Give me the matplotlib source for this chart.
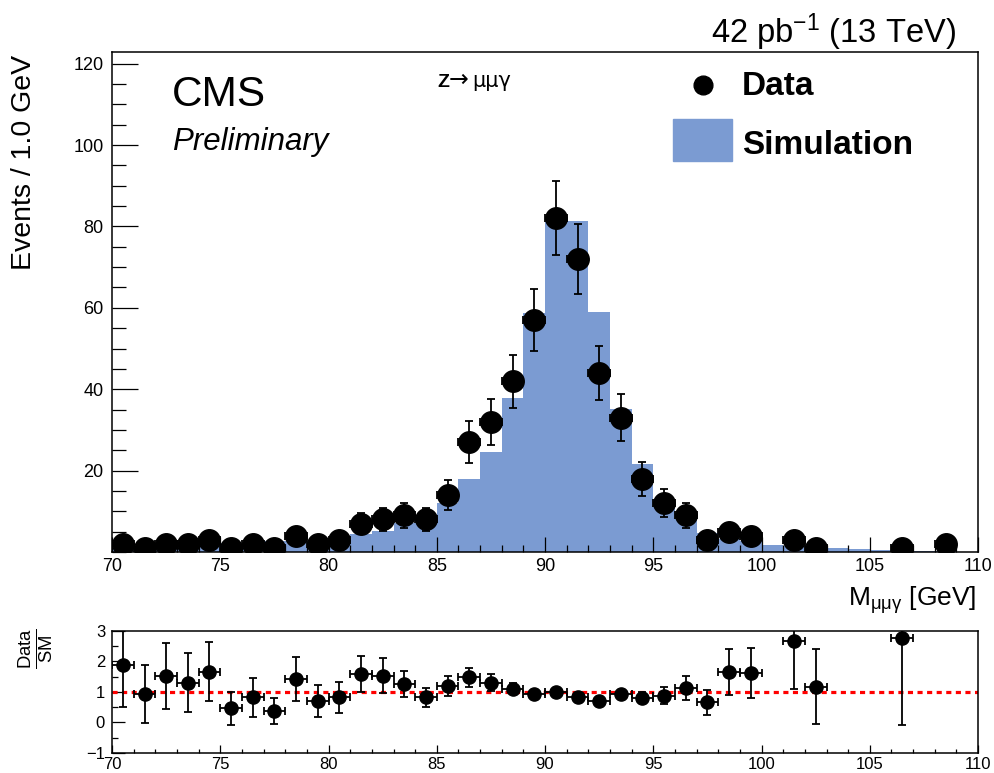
import numpy as np
import matplotlib
matplotlib.use('Agg')
import matplotlib.pyplot as plt
from matplotlib.ticker import MultipleLocator

plt.rcParams['font.family'] = ['Liberation Sans', 'DejaVu Sans']
plt.rcParams['mathtext.fontset'] = 'custom'
plt.rcParams['mathtext.rm'] = 'Liberation Sans'
plt.rcParams['mathtext.it'] = 'Liberation Sans'
plt.rcParams['mathtext.bf'] = 'Liberation Sans:bold'
plt.rcParams['mathtext.default'] = 'regular'

# binning: 1 GeV bins from 70 to 110
mass_lo, mass_hi = 70, 110
edges = np.arange(mass_lo, mass_hi + 1, 1)

# simulation (per bin, 70-71 ... 109-110)
sim = [1.1, 1.1, 1.3, 1.5, 1.8, 2.1, 2.4, 2.6, 2.8, 2.8,
       3.6, 4.5, 5.2, 7.1, 9.2, 12.0, 18.0, 24.5, 37.8, 58.8,
       81.4, 81.4, 59.0, 35.1, 21.5, 12.9, 9.5, 4.6, 3.3, 2.8,
       1.8, 1.5, 1.0, 0.9, 0.7, 0.6, 0.4, 0.3, 0.2, 0.1]

# data points (bins with entries)
data_mass = [70.5, 71.5, 72.5, 73.5, 74.5, 75.5, 76.5, 77.5, 78.5, 79.5,
             80.5, 81.5, 82.5, 83.5, 84.5, 85.5, 86.5, 87.5, 88.5, 89.5,
             90.5, 91.5, 92.5, 93.5, 94.5, 95.5, 96.5, 97.5, 98.5, 99.5,
             101.5, 102.5, 106.5, 108.5]
data_vals = [2, 1, 2, 2, 3, 1, 2, 1, 4, 2,
             3, 7, 8, 9, 8, 14, 27, 32, 42, 57,
             82, 72, 44, 33, 18, 12, 9, 3, 5, 4,
             3, 1, 1, 2]
data_err = [1.4, 1.0, 1.4, 1.4, 1.7, 1.0, 1.4, 1.0, 2.0, 1.4,
            1.7, 2.6, 2.8, 3.0, 2.8, 3.7, 5.2, 5.7, 6.5, 7.5,
            9.1, 8.5, 6.6, 5.7, 4.2, 3.5, 3.0, 1.7, 2.2, 2.0,
            1.7, 1.0, 1.0, 1.4]

# data / SM ratio
ratio_mass = [70.5, 71.5, 72.5, 73.5, 74.5, 75.5, 76.5, 77.5, 78.5, 79.5,
              80.5, 81.5, 82.5, 83.5, 84.5, 85.5, 86.5, 87.5, 88.5, 89.5,
              90.5, 91.5, 92.5, 93.5, 94.5, 95.5, 96.5, 97.5, 98.5, 99.5,
              101.5, 102.5, 106.5]
ratio_vals = [1.90, 0.93, 1.53, 1.31, 1.66, 0.46, 0.82, 0.38, 1.43, 0.71,
              0.82, 1.59, 1.53, 1.27, 0.82, 1.19, 1.48, 1.30, 1.11, 0.93,
              1.00, 0.83, 0.71, 0.92, 0.81, 0.88, 1.13, 0.66, 1.66, 1.62,
              2.66, 1.18, 2.76]
ratio_err = [1.39, 0.95, 1.08, 0.96, 0.97, 0.54, 0.63, 0.43, 0.71, 0.52,
             0.50, 0.60, 0.57, 0.43, 0.32, 0.32, 0.30, 0.28, 0.17, 0.12,
             0.11, 0.10, 0.10, 0.15, 0.18, 0.27, 0.38, 0.40, 0.75, 0.81,
             1.56, 1.22, 2.83]

sim_color = '#7b9bd2'

fig = plt.figure(figsize=(9.95, 7.73), dpi=100)
ax = fig.add_axes([0.1126, 0.2859, 0.8704, 0.6468])
rax = fig.add_axes([0.1126, 0.0259, 0.8704, 0.1578])

# main panel
ax.stairs(sim, edges, fill=True, color=sim_color, linewidth=0)
ax.errorbar(data_mass, data_vals, yerr=data_err, xerr=0.5, fmt='o',
            color='black', ms=15.5, elinewidth=1.3, capsize=2.8, capthick=1.3)
ax.set_xlim(mass_lo, mass_hi)
ax.set_ylim(0, 122.85)
ax.set_yticks([20, 40, 60, 80, 100, 120])
ax.yaxis.set_minor_locator(MultipleLocator(5))
ax.xaxis.set_major_locator(MultipleLocator(5))
ax.xaxis.set_minor_locator(MultipleLocator(1))
ax.tick_params(axis='y', which='major', direction='in', length=19, width=0.9,
               labelsize=13, pad=6)
ax.tick_params(axis='y', which='minor', direction='in', length=10, width=0.9)
ax.tick_params(axis='x', which='major', direction='in', length=11, width=0.9,
               labelsize=13, pad=4)
ax.tick_params(axis='x', which='minor', direction='in', length=5, width=0.9)
for s in ax.spines.values():
    s.set_linewidth(1.1)

# ratio panel
rax.axhline(1, color='red', linestyle=(0, (1.6, 1.4)), linewidth=2.3)
rax.errorbar(ratio_mass, ratio_vals, yerr=ratio_err, xerr=0.5, fmt='o',
             color='black', ms=9.5, elinewidth=1.3, capsize=2.8, capthick=1.3)
rax.set_xlim(mass_lo, mass_hi)
rax.set_ylim(-1, 3)
rax.yaxis.set_major_locator(MultipleLocator(1))
rax.yaxis.set_minor_locator(MultipleLocator(0.5))
rax.xaxis.set_major_locator(MultipleLocator(5))
rax.xaxis.set_minor_locator(MultipleLocator(1))
rax.tick_params(axis='y', which='major', direction='in', length=9, width=0.9,
                labelsize=12, pad=5)
rax.tick_params(axis='y', which='minor', direction='in', length=4, width=0.9)
rax.tick_params(axis='x', which='major', direction='in', length=6, width=0.9,
                labelsize=12, pad=3)
rax.tick_params(axis='x', which='minor', direction='in', length=3, width=0.9)
for s in rax.spines.values():
    s.set_linewidth(1.1)

# labels and texts (figure pixel positions / 995x773)
W, H = 995.0, 773.0
fig.text(24 / W, 1 - 55 / H, 'Events / 1.0 GeV', rotation=90, ha='center',
         va='top', fontsize=20.5)
fig.text(976 / W, 1 - 606 / H, r'M$_{\mu\mu\gamma}$ [GeV]', ha='right',
         va='baseline', fontsize=19)
fig.text(37 / W, 1 - 648 / H, r'$\frac{Data}{SM}$', rotation=90, ha='center',
         va='center', fontsize=19)
fig.text(956 / W, 1 - 43 / H, r'42 pb$^{-1}$ (13 TeV)', ha='right',
         va='baseline', fontsize=23.5)
fig.text(172 / W, 1 - 106 / H, 'CMS', ha='left', va='baseline', fontsize=30.5)
fig.text(172 / W, 1 - 150 / H, 'Preliminary', ha='left', va='baseline',
         fontsize=22.5, style='italic')
fig.text(437 / W, 1 - 87 / H, 'Z', ha='left', va='baseline', fontsize=14,
         fontweight='bold')
fig.text(449 / W, 1 - 87 / H, '→', ha='left', va='baseline', fontsize=17,
         family='DejaVu Sans')
fig.text(472 / W, 1 - 87 / H, 'μμγ', ha='left', va='baseline', fontsize=15,
         family='DejaVu Sans')

# legend drawn by hand
fig.add_artist(plt.Line2D([703 / W], [1 - 85 / H], marker='o', color='black',
                          ms=13.5, linestyle='none'))
fig.add_artist(plt.Rectangle((673 / W, 1 - 161 / H), 59 / W, 42 / H,
                             color=sim_color, transform=fig.transFigure))
fig.text(742 / W, 1 - 95 / H, 'Data', ha='left', va='baseline', fontsize=24,
         fontweight='bold')
fig.text(742 / W, 1 - 154 / H, 'Simulation', ha='left', va='baseline',
         fontsize=24, fontweight='bold')

fig.savefig('out.png', dpi=100)
